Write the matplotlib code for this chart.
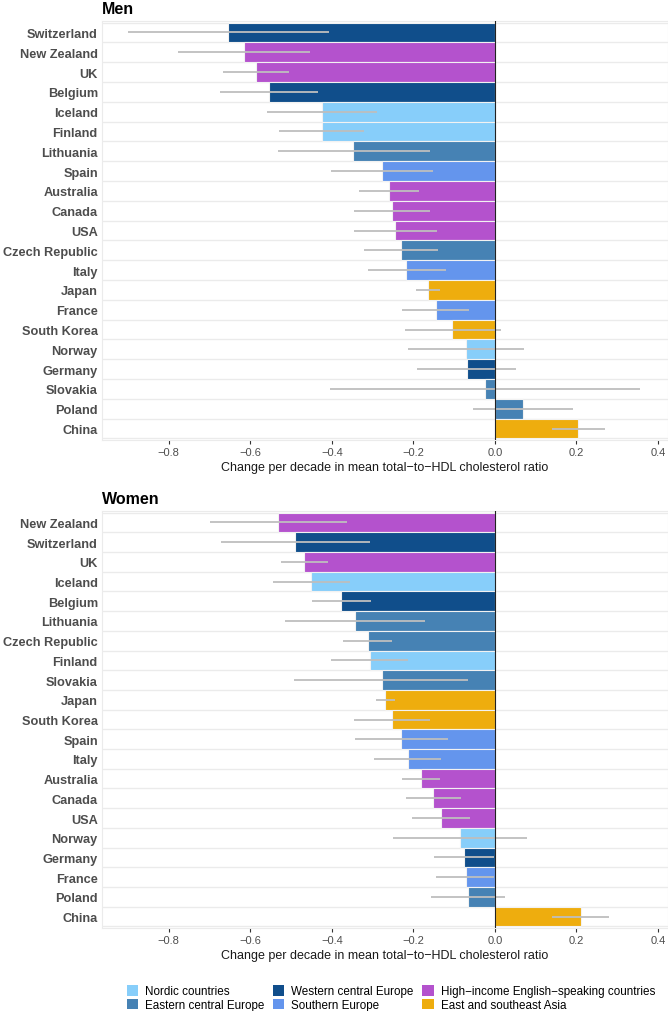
import matplotlib
matplotlib.use("Agg")
import matplotlib.pyplot as plt
from matplotlib.patches import Patch

plt.rcParams['font.family'] = ['Liberation Sans', 'DejaVu Sans']

region_names = ["Nordic countries", "Eastern central Europe", "Western central Europe",
                "Southern Europe", "High\u2212income English\u2212speaking countries",
                "East and southeast Asia"]
region_colors = ["#87CEFA", "#4682B4", "#104E8B", "#6495ED", "#B452CD", "#EEAD0E"]

country_region = {
    "Iceland": 0, "Finland": 0, "Norway": 0,
    "Lithuania": 1, "Czech Republic": 1, "Slovakia": 1, "Poland": 1,
    "Switzerland": 2, "Belgium": 2, "Germany": 2,
    "Spain": 3, "Italy": 3, "France": 3,
    "New Zealand": 4, "UK": 4, "Australia": 4, "Canada": 4, "USA": 4,
    "Japan": 5, "South Korea": 5, "China": 5,
}

men_countries = ["Switzerland", "New Zealand", "UK", "Belgium", "Iceland", "Finland",
                 "Lithuania", "Spain", "Australia", "Canada", "USA", "Czech Republic",
                 "Italy", "Japan", "France", "South Korea", "Norway", "Germany",
                 "Slovakia", "Poland", "China"]
men_values = [-0.654, -0.616, -0.587, -0.554, -0.425, -0.425, -0.347, -0.277, -0.259,
              -0.253, -0.244, -0.230, -0.217, -0.164, -0.145, -0.105, -0.071, -0.069,
              -0.024, 0.068, 0.205]
men_lower = [-0.900, -0.777, -0.668, -0.674, -0.560, -0.529, -0.533, -0.402, -0.334,
             -0.346, -0.345, -0.321, -0.312, -0.194, -0.227, -0.221, -0.214, -0.191,
             -0.405, -0.054, 0.141]
men_upper = [-0.408, -0.454, -0.505, -0.434, -0.290, -0.321, -0.159, -0.152, -0.185,
             -0.159, -0.142, -0.139, -0.121, -0.134, -0.064, 0.014, 0.072, 0.053,
             0.356, 0.191, 0.270]

women_countries = ["New Zealand", "Switzerland", "UK", "Iceland", "Belgium", "Lithuania",
                   "Czech Republic", "Finland", "Slovakia", "Japan", "South Korea", "Spain",
                   "Italy", "Australia", "Canada", "USA", "Norway", "Germany", "France",
                   "Poland", "China"]
women_values = [-0.531, -0.490, -0.468, -0.451, -0.377, -0.342, -0.312, -0.306, -0.278,
                -0.269, -0.253, -0.230, -0.214, -0.181, -0.151, -0.133, -0.085, -0.076,
                -0.071, -0.066, 0.211]
women_lower = [-0.700, -0.673, -0.525, -0.545, -0.449, -0.515, -0.373, -0.403, -0.494,
               -0.292, -0.345, -0.344, -0.297, -0.227, -0.219, -0.204, -0.249, -0.150,
               -0.144, -0.157, 0.141]
women_upper = [-0.363, -0.306, -0.410, -0.356, -0.304, -0.172, -0.253, -0.212, -0.065,
               -0.244, -0.160, -0.116, -0.132, -0.135, -0.082, -0.061, 0.078, -0.003,
               -0.001, 0.026, 0.280]

x_ticks = [-0.8, -0.6, -0.4, -0.2, 0.0, 0.2, 0.4]
x_label = "Change per decade in mean total\u2212to\u2212HDL cholesterol ratio"

W, H = 668, 1012
fig = plt.figure(figsize=(W / 100, H / 100), dpi=100)

def panel(rect, title, countries, values, lower, upper):
    ax = fig.add_axes(rect)
    n = len(countries)
    ys = list(range(n))
    for k in range(n + 1):
        ax.axhline(k - 0.5, color="#EBEBEB", lw=1.0, zorder=0)
    colors = [region_colors[country_region[c]] for c in countries]
    ax.barh(ys, values, height=1.0, color=colors, edgecolor="#F2F2F2", linewidth=0.8, zorder=2)
    ax.hlines(ys, lower, upper, color="#BEBEBE", lw=1.3, zorder=3)
    ax.axvline(0, color="#222222", lw=0.8, zorder=4)
    ax.set_xlim(-0.964, 0.425)
    ax.set_ylim(n - 0.42, -0.58)
    ax.set_yticks(ys)
    ax.set_yticklabels(countries, fontsize=9.2, fontweight="bold", color="#4D4D4D")
    ax.set_xticks(x_ticks)
    ax.set_xticklabels(["\u22120.8", "\u22120.6", "\u22120.4", "\u22120.2", "0.0", "0.2", "0.4"],
                       fontsize=8, color="#4D4D4D")
    ax.tick_params(axis="y", length=0, pad=3)
    ax.tick_params(axis="x", length=3, color="#333333", pad=2)
    ax.set_xlabel(x_label, fontsize=9, color="#1A1A1A", labelpad=3)
    for s in ax.spines.values():
        s.set_color("#EBEBEB")
        s.set_linewidth(0.8)
    ax.set_title(title, loc="left", fontsize=11.5, fontweight="bold", pad=6)
    return ax

left = 102 / W
width = 1 - left
panel([left, 1 - 441 / H, width, (441 - 22) / H], "Men",
      men_countries, men_values, men_lower, men_upper)
panel([left, 1 - 929 / H, width, (929 - 512) / H], "Women",
      women_countries, women_values, women_lower, women_upper)

handles = [Patch(facecolor=c, edgecolor="none") for c in region_colors]
fig.legend(handles, region_names, ncol=3, loc="center", bbox_to_anchor=(0.585, 1 - 999 / H),
           frameon=False, fontsize=8.4, handlelength=1.0, handleheight=1.0,
           columnspacing=0.7, handletextpad=0.6, labelspacing=0.1)

fig.savefig("out.png", dpi=100)
